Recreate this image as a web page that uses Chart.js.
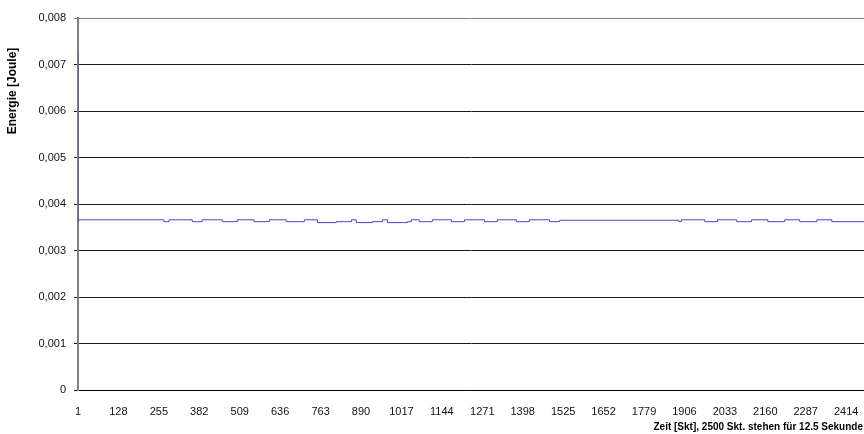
<!DOCTYPE html>
<html>
<head>
<meta charset="utf-8">
<script src="https://cdn.jsdelivr.net/npm/chart.js@4.4.0/dist/chart.umd.min.js"></script>
<style>
html, body { margin: 0; padding: 0; background: #fff; }
#wrap { width: 864px; height: 434px; position: relative; }
</style>
</head>
<body>
<div id="wrap"><canvas id="energyChart"></canvas></div>
<script>
// Messwerte: Startindex jeder Stufe und der Energiewert, der bis zum nächsten Startindex gilt
const stepStart = [1, 2, 271, 287, 360, 391, 454, 501, 554, 602, 655, 712, 753, 812, 860, 875, 926, 957, 973,
    1036, 1048, 1073, 1114, 1174, 1215, 1278, 1319, 1378, 1419, 1482, 1514, 1888, 1897, 1970, 2010,
    2070, 2117, 2168, 2221, 2268, 2322, 2369, 2426, 2470];
const energy = [0.00727, 0.00362, 0.00366, 0.00362, 0.00366, 0.00362, 0.00366, 0.00362, 0.00366, 0.00362,
    0.00366, 0.00362, 0.00366, 0.00360, 0.00362, 0.00366, 0.00360, 0.00362, 0.00366,
    0.00360, 0.00362, 0.00366, 0.00362, 0.00366, 0.00362, 0.00366, 0.00362, 0.00366, 0.00362, 0.00366,
    0.00362, 0.00365, 0.00362, 0.00366, 0.00362, 0.00366, 0.00362, 0.00366, 0.00362, 0.00366, 0.00362,
    0.00366, 0.00362, 0.00362];

// Achsenbeschriftungen
const xTicks = [1, 128, 255, 382, 509, 636, 763, 890, 1017, 1144, 1271, 1398, 1525, 1652, 1779, 1906, 2033, 2160, 2287, 2414];
const yTicks = [0, 0.001, 0.002, 0.003, 0.004, 0.005, 0.006, 0.007, 0.008];
const xTitle = 'Zeit [Skt], 2500 Skt. stehen für 12.5 Sekunde';
const yTitle = 'Energie [Joule]';

// Achsentitel selbst zeichnen (Excel-Position)
const titlePlugin = {
    id: 'axisTitles',
    afterDraw(chart) {
        const ctx = chart.ctx;
        ctx.save();
        ctx.fillStyle = '#000';
        ctx.textBaseline = 'middle';
        ctx.font = 'bold 10px "Liberation Sans", Arial, sans-serif';
        ctx.textAlign = 'right';
        ctx.fillText(xTitle, 863, 427);
        ctx.font = 'bold 12px "Liberation Sans", Arial, sans-serif';
        ctx.translate(13, 91);
        ctx.rotate(-Math.PI / 2);
        ctx.textAlign = 'center';
        ctx.fillText(yTitle, 0, 0);
        ctx.restore();
    }
};

const ctx = document.getElementById('energyChart').getContext('2d');
const chart = new Chart(ctx, {
    type: 'line',
    data: {
        datasets: [{
            data: stepStart.map((x, i) => ({ x: x, y: energy[i] })),
            borderColor: '#4646c0',
            borderWidth: 1,
            pointRadius: 0,
            stepped: 'after',
            fill: false
        }]
    },
    options: {
        responsive: true,
        maintainAspectRatio: false,
        animation: false,
        layout: { padding: { top: 18, right: 0, left: 0, bottom: 0 } },
        plugins: { legend: { display: false }, tooltip: { enabled: false } },
        scales: {
            x: {
                type: 'linear',
                min: 1,
                max: 2470,
                afterBuildTicks: scale => { scale.ticks = xTicks.map(v => ({ value: v })); },
                afterFit: scale => {
                    scale.height = 44;
                    scale.paddingRight = 0; // Diagramm bis an den rechten Rand
                },
                grid: { display: false, drawTicks: false, tickLength: 0 },
                border: { display: true, color: '#000', width: 1 },
                ticks: {
                    autoSkip: false,
                    maxRotation: 0,
                    padding: 15,
                    color: '#111',
                    font: { family: '"Liberation Sans", Arial, sans-serif', size: 11 },
                    callback: v => String(v)
                }
            },
            y: {
                min: 0,
                max: 0.008,
                afterBuildTicks: scale => { scale.ticks = yTicks.map(v => ({ value: v })); },
                afterFit: scale => { scale.width = 78; },
                grid: {
                    color: c => (c.tick && c.tick.value >= 0.008 ? '#808080' : '#1a1a1a'),
                    lineWidth: 1,
                    tickLength: 4,
                    drawTicks: true
                },
                border: { display: true, color: '#808080', width: 2 },
                ticks: {
                    padding: 8,
                    color: '#111',
                    font: { family: '"Liberation Sans", Arial, sans-serif', size: 11 },
                    callback: v => (v === 0 ? '0' : v.toFixed(3).replace('.', ','))
                }
            }
        }
    },
    plugins: [titlePlugin]
});
</script>
</body>
</html>
